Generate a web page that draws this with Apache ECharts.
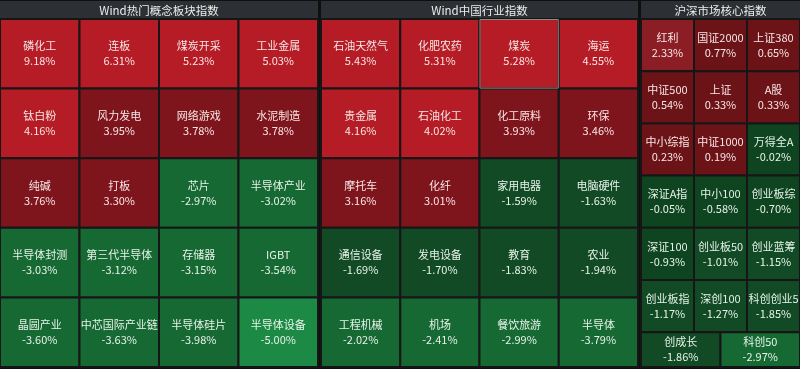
<!DOCTYPE html>
<html>
<head>
<meta charset="utf-8">
<script src="https://cdn.jsdelivr.net/npm/echarts@6/dist/echarts.min.js"></script>
<style>
html,body{margin:0;padding:0;background:#0f0f10;}
#main{width:800px;height:369px;}
</style>
</head>
<body>
<div id="main"></div>
<script>
// ---- data ----
const panelTitles = ['Wind热门概念板块指数', 'Wind中国行业指数', '沪深市场核心指数'];

const conceptNames = ['磷化工','连板','煤炭开采','工业金属','钛白粉','风力发电','网络游戏','水泥制造','纯碱','打板','芯片','半导体产业','半导体封测','第三代半导体','存储器','IGBT','晶圆产业','中芯国际产业链','半导体硅片','半导体设备'];
const conceptValues = [9.18,6.31,5.23,5.03,4.16,3.95,3.78,3.78,3.76,3.30,-2.97,-3.02,-3.03,-3.12,-3.15,-3.54,-3.60,-3.63,-3.98,-5.00];

const industryNames = ['石油天然气','化肥农药','煤炭','海运','贵金属','石油化工','化工原料','环保','摩托车','化纤','家用电器','电脑硬件','通信设备','发电设备','教育','农业','工程机械','机场','餐饮旅游','半导体'];
const industryValues = [5.43,5.31,5.28,4.55,4.16,4.02,3.93,3.46,3.16,3.01,-1.59,-1.63,-1.69,-1.70,-1.83,-1.94,-2.02,-2.41,-2.99,-3.79];

const coreNames = ['红利','国证2000','上证380','中证500','上证','A股','中小综指','中证1000','万得全A','深证A指','中小100','创业板综','深证100','创业板50','创业蓝筹','创业板指','深创100','科创创业50','创成长','科创50'];
const coreValues = [2.33,0.77,0.65,0.54,0.33,0.33,0.23,0.19,-0.02,-0.05,-0.58,-0.70,-0.93,-1.01,-1.15,-1.17,-1.27,-1.85,-1.86,-2.97];

// ---- styling ----
function cellColor(v) {
  if (v >= 4) return '#b51c25';
  if (v >= 3) return '#7f151c';
  if (v >= 2) return '#8b1e24';
  if (v > 0) return '#6c1318';
  if (v > -1) return '#0f4421';
  if (v > -2) return '#114a25';
  if (v > -4.5) return '#176934';
  return '#1c8a45';
}
function labelColor(v) { return v > 0 ? '#f6e6e6' : '#e6f3e8'; }

const highlight = { panel: 1, index: 2 }; // selected cell outline (煤炭)
const FONT = '"Noto Sans CJK SC", "Noto Sans", sans-serif';

const panels = [
  { names: conceptNames, values: conceptValues, cols: 4, left: 0, width: 318 },
  { names: industryNames, values: industryValues, cols: 4, left: 321, width: 317 },
  { names: coreNames, values: coreValues, cols: 3, left: 641, width: 159 }
];
const headerH = 18, topY = 1, bottomY = 367;

// equal-area grid: full rows of `cols`, a remainder row shares the width
function buildCells(p, pi) {
  const n = p.names.length, c = p.cols;
  const full = Math.floor(n / c), rem = n - full * c;
  const cells = [];
  p.names.forEach((name, i) => {
    let x0, x1, y0, y1;
    if (i < full * c) {
      const col = i % c, row = Math.floor(i / c);
      x0 = col; x1 = col + 1; y0 = row; y1 = row + 1;
    } else {
      const k = i - full * c, w = c / rem;
      x0 = k * w; x1 = (k + 1) * w; y0 = full; y1 = full + rem / c;
    }
    cells.push({
      name: name,
      value: [x0, y0, x1, y1, p.values[i], (pi === highlight.panel && i === highlight.index) ? 1 : 0]
    });
  });
  const totalRows = full + (rem ? rem / c : 0);
  return { cells, totalRows };
}

const grids = [], xAxes = [], yAxes = [], series = [];
panels.forEach((p, pi) => {
  const { cells, totalRows } = buildCells(p, pi);
  grids.push({ left: p.left, top: topY + headerH, width: p.width, height: bottomY - topY - headerH, containLabel: false });
  xAxes.push({ type: 'value', gridIndex: pi, min: 0, max: p.cols, show: false });
  yAxes.push({ type: 'value', gridIndex: pi, min: 0, max: totalRows, inverse: true, show: false });
  series.push({
    type: 'custom',
    xAxisIndex: pi,
    yAxisIndex: pi,
    silent: true,
    animation: false,
    data: cells,
    renderItem: function (params, api) {
      const a = api.coord([api.value(0), api.value(1)]);
      const b = api.coord([api.value(2), api.value(3)]);
      const v = api.value(4);
      const hi = api.value(5) === 1;
      const x = Math.min(a[0], b[0]), y = Math.min(a[1], b[1]);
      const w = Math.abs(b[0] - a[0]), h = Math.abs(b[1] - a[1]);
      const name = cells[params.dataIndex].name;
      return {
        type: 'group',
        children: [
          {
            type: 'rect',
            shape: { x: x, y: y, width: w, height: h },
            style: { fill: cellColor(v), stroke: '#161616', lineWidth: 2 }
          },
          {
            type: 'rect',
            z2: 10,
            shape: { x: x + 0.5, y: y + 0.5, width: w - 1, height: h - 1 },
            style: { fill: 'none', stroke: hi ? '#8a8a8a' : 'none', lineWidth: 1 }
          },
          {
            type: 'rect',
            z2: 20,
            shape: { x: x, y: y, width: w, height: h },
            style: { fill: 'none' },
            textContent: {
              style: {
                text: name + '\n' + v.toFixed(2) + '%',
                fill: labelColor(v),
                font: '11px ' + FONT,
                lineHeight: 15,
                width: w - 1,
                overflow: 'truncate',
                ellipsis: ''
              }
            },
            textConfig: { position: 'inside' }
          }
        ]
      };
    }
  });
});

const graphics = [];
panels.forEach((p, pi) => {
  graphics.push({
    type: 'rect',
    shape: { x: p.left, y: topY, width: p.width, height: headerH },
    style: { fill: '#2c2f33' },
    silent: true
  });
  graphics.push({
    type: 'text',
    x: p.left + p.width / 2,
    y: topY + headerH / 2 + 0.5,
    style: {
      text: panelTitles[pi],
      fill: '#ececec',
      font: '11.5px ' + FONT,
      align: 'center',
      verticalAlign: 'middle'
    },
    silent: true
  });
});

const chart = echarts.init(document.getElementById('main'), null, { renderer: 'canvas' });
chart.setOption({
  backgroundColor: '#0f0f10',
  animation: false,
  tooltip: { show: false },
  grid: grids,
  xAxis: xAxes,
  yAxis: yAxes,
  series: series,
  graphic: graphics
});
</script>
</body>
</html>
